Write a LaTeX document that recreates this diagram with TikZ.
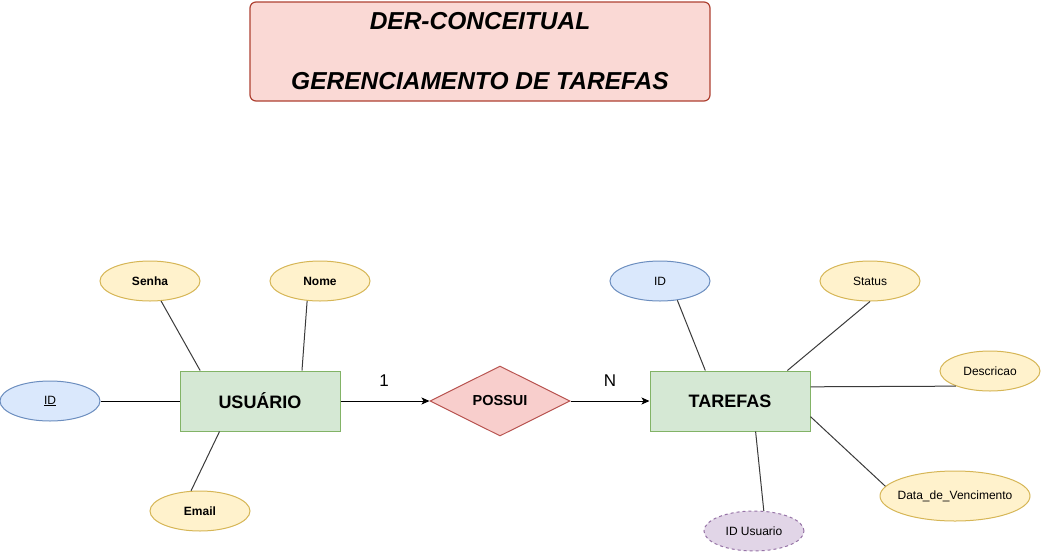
\documentclass[tikz,border=0pt]{standalone}
\usepackage{fontspec}
\setmainfont{Liberation Sans}
\usetikzlibrary{shapes.geometric,arrows.meta}
\definecolor{titlefill}{HTML}{FAD9D5}
\definecolor{titledraw}{HTML}{AE4132}
\definecolor{entfill}{HTML}{D5E8D4}
\definecolor{entdraw}{HTML}{82B366}
\definecolor{relfill}{HTML}{F8CECC}
\definecolor{reldraw}{HTML}{B85450}
\definecolor{keyfill}{HTML}{DAE8FC}
\definecolor{keydraw}{HTML}{6C8EBF}
\definecolor{attrfill}{HTML}{FFF2CC}
\definecolor{attrdraw}{HTML}{D6B656}
\definecolor{fkfill}{HTML}{E1D5E7}
\definecolor{fkdraw}{HTML}{9673A6}
\definecolor{linkgray}{HTML}{3A3A3A}
\tikzset{
  titlebox/.style={draw=titledraw, fill=titlefill, line width=1.2pt, rounded corners=6pt,
    minimum width=460pt, minimum height=99pt, inner sep=0pt, align=center,
    font=\fontsize{24.5}{60}\selectfont\bfseries\itshape},
  entbox/.style={draw=entdraw, fill=entfill, line width=1pt, minimum width=160pt,
    minimum height=60pt, inner sep=0pt, font=\fontsize{18}{20}\selectfont\bfseries},
  relbox/.style={shape=diamond, draw=reldraw, fill=relfill, line width=1pt,
    minimum width=140pt, minimum height=70pt, inner sep=0pt,
    font=\fontsize{14.5}{16}\selectfont\bfseries},
  attrbase/.style={shape=ellipse, line width=1pt, minimum width=100pt, minimum height=40pt,
    inner sep=0pt, font=\fontsize{12}{14}\selectfont},
  attrbox/.style={attrbase, draw=attrdraw, fill=attrfill},
  keybox/.style={attrbase, draw=keydraw, fill=keyfill},
  fkbox/.style={attrbase, draw=fkdraw, fill=fkfill, dashed},
  link/.style={draw=linkgray, line width=1pt},
  rellink/.style={draw=black, line width=1pt, -{Stealth[length=8pt,width=7pt,inset=2pt]}},
  card/.style={inner sep=0pt, font=\fontsize{17}{19}\selectfont},
}
\begin{document}
\begin{tikzpicture}[x=1pt,y=-1pt]
\useasboundingbox (0,0) rectangle (1041,552);

\node[titlebox] (title) at (480,51.5) {DER-CONCEITUAL\\GERENCIAMENTO DE TAREFAS};

% entities and relationship
\node[entbox] (usu) at (260,401) {USUÁRIO};
\node[relbox] (possui) at (500,401) {POSSUI};
\node[entbox] (tar) at (730,401) {TAREFAS};

% USUARIO attributes
\node[keybox] (uid) at (50,401) {\underline{ID}};
\node[attrbox, font=\fontsize{12}{14}\selectfont\bfseries] (senha) at (150,281) {Senha};
\node[attrbox, font=\fontsize{12}{14}\selectfont\bfseries] (nome) at (320,281) {Nome};
\node[attrbox, font=\fontsize{12}{14}\selectfont\bfseries] (email) at (200,511) {Email};

% TAREFAS attributes
\node[keybox] (tid) at (660,281) {ID};
\node[attrbox] (status) at (870,281) {Status};
\node[attrbox] (desc) at (990,371) {Descricao};
\node[attrbox, minimum width=150pt, minimum height=50pt] (data) at (955,496) {\makebox[0pt]{Data\_de\_Vencimento}};
\node[fkbox] (idu) at (754,531) {ID Usuario};

% cardinalities
\node[card] (c1) at (384,381) {1};
\node[card] (cN) at (610,381) {N};

% connectors
\draw[line width=1pt, draw=black] (uid.east) -- (usu.west);
\draw[link] (senha.-61) -- (usu.153.4);
\draw[link] (nome.-123) -- (usu.36.87);
\draw[link] (usu.-143.13) -- (email.114.4);

\draw[rellink] (usu.east) -- (possui.west);
\draw[rellink] (possui.east) -- (tar.west);

\draw[link] (tid.-48) -- (tar.129.8);
\draw[link] (status.south) -- (tar.28.6);
\draw[link] (tar.10.6) -- (desc.-156.8);
\draw[link] (tar.-11.3) -- (data.172);
\draw[link] (tar.-50.2) -- (idu.64.6);
\end{tikzpicture}
\end{document}
